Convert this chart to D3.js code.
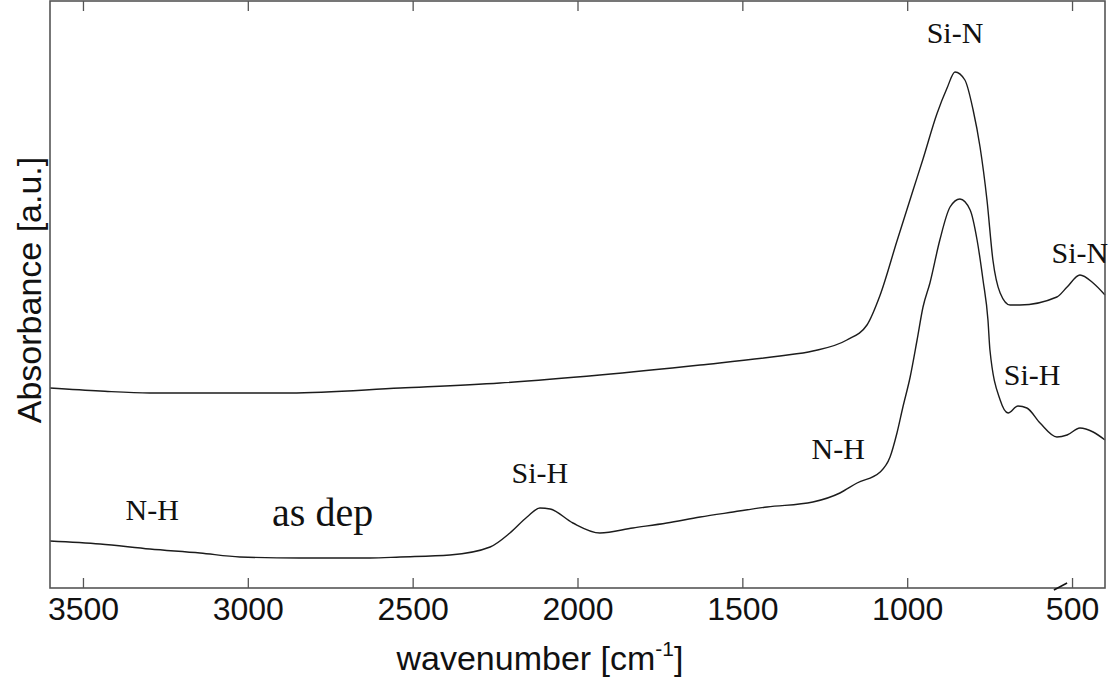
<!DOCTYPE html>
<html>
<head>
<meta charset="utf-8">
<script src="https://cdn.jsdelivr.net/npm/d3@7"></script>
<style>
  html, body { margin: 0; padding: 0; background: #fff; }
  svg { display: block; }
</style>
</head>
<body>
<svg id="chart" width="1112" height="677"></svg>
<script>
// ---- data (wavenumber in cm^-1, absorbance in arbitrary units) ----
const xTicks = [3500, 3000, 2500, 2000, 1500, 1000, 500];
const xDomain = [3600, 400];
const yDomain = [0, 587];

const upperWavenumber = [3600, 3448, 3297, 2872, 2538, 2235, 1932, 1628, 1386, 1286, 1183, 1122, 1082, 1031, 982, 952, 910, 879, 855, 825, 800, 779, 758, 740, 718, 688, 658, 546, 515, 476, 436, 400];
const upperAbsorbance = [200, 197, 195, 195, 200, 205, 213, 223, 232, 237, 248, 263, 293, 347, 398, 429, 474, 500, 516, 508, 478, 441, 388, 328, 295, 283, 283, 291, 301, 313, 305, 293];

const lowerWavenumber = [3600, 3448, 3297, 3145, 3024, 2842, 2629, 2538, 2387, 2265, 2205, 2153, 2114, 2083, 2014, 1932, 1832, 1729, 1628, 1528, 1425, 1286, 1204, 1152, 1082, 1052, 1031, 1013, 991, 970, 952, 931, 901, 870, 840, 809, 788, 770, 755, 749, 718, 694, 664, 637, 597, 546, 515, 476, 436, 400];
const lowerAbsorbance = [47, 44, 39, 35, 31, 30, 30, 31, 33, 41, 55, 71, 80, 79, 65, 55, 60, 65, 71, 76, 81, 86, 95, 105, 116, 131, 155, 181, 211, 248, 281, 305, 348, 381, 389, 378, 348, 308, 268, 238, 188, 175, 182, 180, 165, 151, 153, 160, 156, 148];

const peakLabels = ["Si-N", "Si-N", "Si-H", "N-H", "Si-H", "N-H"];
const peakLabelWavenumber = [855, 476, 621, 1209, 2114, 3290];
const peakLabelAbsorbance = [545, 325, 203, 129, 105, 68];
const sampleLabel = "as dep";
const sampleLabelAt = [2773, 62];

// ---- layout ----
const svg = d3.select("#chart");
const mLeft = 50, mRight = 1105, mTop = 1, mBottom = 588;

const x = d3.scaleLinear().domain(xDomain).range([mLeft, mRight]);
const y = d3.scaleLinear().domain(yDomain).range([mBottom, mTop]);

const lineColor = "#1c1c1c";
const axisColor = "#555";

const line = d3.line()
  .x(d => x(d[0]))
  .y(d => y(d[1]))
  .curve(d3.curveMonotoneX);

const upper = upperWavenumber.map((w, i) => [w, upperAbsorbance[i]]);
const lower = lowerWavenumber.map((w, i) => [w, lowerAbsorbance[i]]);

svg.append("path").datum(upper).attr("d", line)
  .attr("fill", "none").attr("stroke", lineColor).attr("stroke-width", 1.4);
svg.append("path").datum(lower).attr("d", line)
  .attr("fill", "none").attr("stroke", lineColor).attr("stroke-width", 1.4);

// ---- axes ----
const bottomAxis = d3.axisBottom(x).tickValues(xTicks).tickSize(-10).tickFormat(d3.format("d"));
const gB = svg.append("g").attr("transform", `translate(0,${mBottom})`).call(bottomAxis);
gB.select(".domain").remove();
gB.selectAll(".tick line").attr("stroke", axisColor).attr("stroke-width", 1.3);
gB.selectAll(".tick text")
  .attr("font-family", "Liberation Sans, Arial, sans-serif")
  .attr("font-size", 32).attr("fill", "#111").attr("dy", "0.71em").attr("y", 9);

const topAxis = d3.axisTop(x).tickValues(xTicks).tickSize(-10).tickFormat("");
const gT = svg.append("g").attr("transform", `translate(0,${mTop})`).call(topAxis);
gT.select(".domain").remove();
gT.selectAll(".tick line").attr("stroke", axisColor).attr("stroke-width", 1.3);

// frame
svg.append("rect")
  .attr("x", mLeft).attr("y", mTop)
  .attr("width", mRight - mLeft).attr("height", mBottom - mTop)
  .attr("fill", "none").attr("stroke", axisColor).attr("stroke-width", 1.6);

// small slash mark near the 500 tick
svg.append("line")
  .attr("x1", x(555)).attr("y1", mBottom + 2)
  .attr("x2", x(515)).attr("y2", mBottom - 5)
  .attr("stroke", "#111").attr("stroke-width", 1.5);

// axis titles
const xt = svg.append("text")
  .attr("x", 540).attr("y", 670)
  .attr("text-anchor", "middle")
  .attr("font-family", "Liberation Sans, Arial, sans-serif")
  .attr("font-size", 34).attr("fill", "#111");
xt.append("tspan").text("wavenumber [cm");
xt.append("tspan").attr("font-size", 21).attr("dy", -14).text("-1");
xt.append("tspan").attr("dy", 14).text("]");

svg.append("text")
  .attr("transform", `translate(41,290) rotate(-90)`)
  .attr("text-anchor", "middle")
  .attr("font-family", "Liberation Sans, Arial, sans-serif")
  .attr("font-size", 34).attr("fill", "#111")
  .text("Absorbance [a.u.]");

// peak labels
peakLabels.forEach((t, i) => {
  svg.append("text")
    .attr("x", x(peakLabelWavenumber[i])).attr("y", y(peakLabelAbsorbance[i]))
    .attr("text-anchor", "middle")
    .attr("font-family", "Liberation Serif, Times New Roman, serif")
    .attr("font-size", 30).attr("fill", "#111")
    .text(t);
});

svg.append("text")
  .attr("x", x(sampleLabelAt[0])).attr("y", y(sampleLabelAt[1]))
  .attr("text-anchor", "middle")
  .attr("font-family", "Liberation Serif, Times New Roman, serif")
  .attr("font-size", 40).attr("fill", "#111")
  .text(sampleLabel);
</script>
</body>
</html>
